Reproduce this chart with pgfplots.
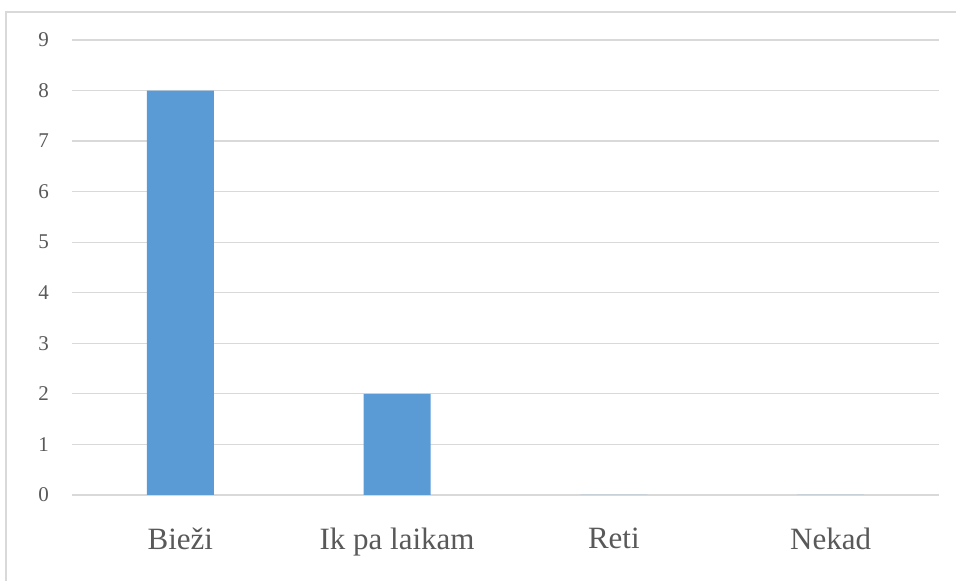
\documentclass[border=0pt]{standalone}
\usepackage{pgfplots}
\pgfplotsset{compat=1.18}
\usepackage{fontspec}
\setmainfont{Liberation Serif}
\definecolor{barblue}{HTML}{5B9BD5}
\definecolor{gridgray}{HTML}{D9D9D9}
\definecolor{txtgray}{HTML}{595959}
\begin{document}
\begin{tikzpicture}[x=0.5pt,y=0.5pt]
\path[use as bounding box] (0,0) rectangle (956,581);
\draw[gridgray, line width=1.2pt] (6,0) -- (6,569) -- (956,569);
\begin{axis}[
  at={(36pt,43pt)}, anchor=south west,
  scale only axis,
  width=433.5pt, height=227.5pt,
  xmin=-0.5, xmax=3.5, ymin=0, ymax=9,
  xtick=data,
  xticklabels={Bieži, Ik pa laikam, Reti, Nekad},
  ytick={0,1,...,9},
  ymajorgrids,
  grid style={gridgray, line width=0.6pt},
  axis line style={draw=none},
  axis x line*=bottom,
  axis y line*=left,
  major tick length=0pt,
  tick style={draw=none},
  x tick label style={font=\fontsize{15.5}{18}\selectfont, text=txtgray, yshift=-13pt},
  y tick label style={font=\fontsize{10.5}{12}\selectfont, text=txtgray, xshift=-8pt},
  /pgf/number format/assume math mode=true,
  clip=false,
]
\draw[gridgray, line width=0.6pt] (axis cs:-0.5,0) -- (axis cs:3.5,0);
\addplot[ybar, bar width=33.5pt, fill=barblue, draw=none] coordinates {(0,8) (1,2) (2,0) (3,0)};
\end{axis}
\end{tikzpicture}
\end{document}
